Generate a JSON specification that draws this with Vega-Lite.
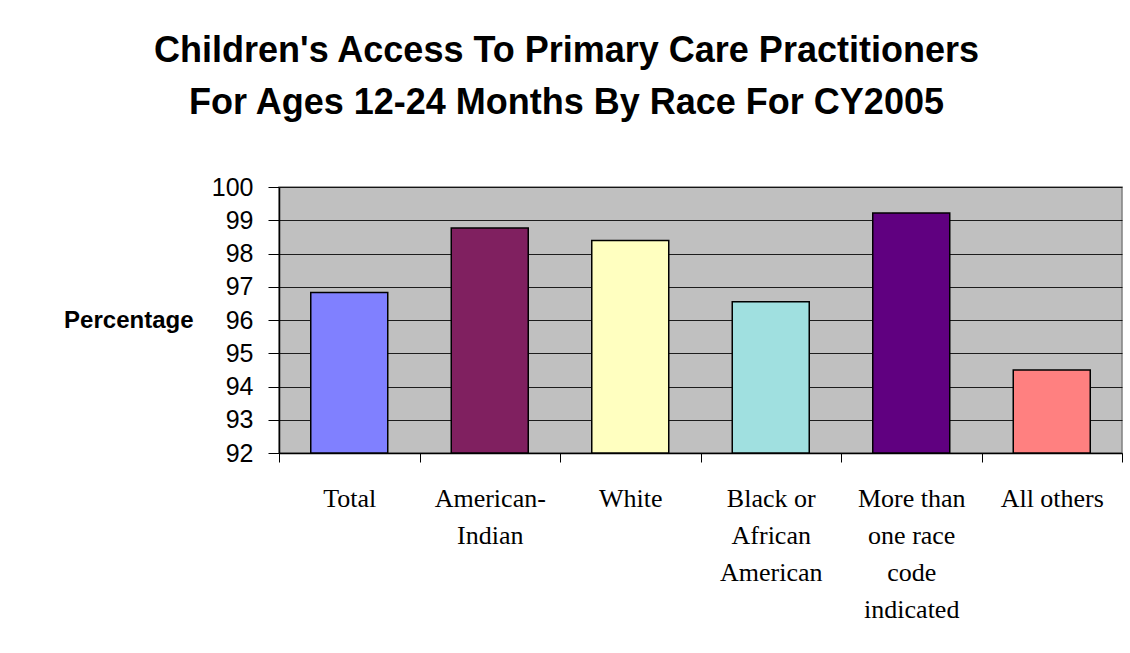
{
  "$schema": "https://vega.github.io/schema/vega-lite/v6.json",
  "width": 843,
  "height": 266,
  "padding": {"left": 63, "top": 33, "right": 5, "bottom": 5},
  "background": "white",
  "title": {
    "text": ["Children's Access To Primary Care Practitioners", "For Ages 12-24 Months By Race For CY2005"],
    "font": "Liberation Sans",
    "fontSize": 36,
    "fontWeight": "bold",
    "color": "black",
    "lineHeight": 52,
    "anchor": "middle",
    "frame": "group",
    "dx": -134,
    "offset": 53
  },
  "data": {
    "values": [
      {"race": "Total", "pct": 96.83, "color": "#8080FF"},
      {"race": "American-Indian", "pct": 98.77, "color": "#802060"},
      {"race": "White", "pct": 98.39, "color": "#FFFFC0"},
      {"race": "Black or African American", "pct": 96.55, "color": "#A0E0E0"},
      {"race": "More than one race code indicated", "pct": 99.22, "color": "#600080"},
      {"race": "All others", "pct": 94.5, "color": "#FF8080"}
    ]
  },
  "mark": {"type": "bar", "stroke": "black", "strokeWidth": 1.5, "width": {"band": 0.548}},
  "encoding": {
    "x": {
      "field": "race",
      "type": "nominal",
      "sort": null,
      "scale": {"paddingInner": 0, "paddingOuter": 0},
      "axis": {
        "title": null,
        "labelAngle": 0,
        "labelFont": "Liberation Serif",
        "labelFontSize": 26,
        "labelColor": "black",
        "labelBaseline": "top",
        "labelLineHeight": 37,
        "labelPadding": 23,
        "labelLimit": 0,
        "labelExpr": "datum.value == 'American-Indian' ? ['American-', 'Indian'] : datum.value == 'Black or African American' ? ['Black or', 'African', 'American'] : datum.value == 'More than one race code indicated' ? ['More than', 'one race', 'code', 'indicated'] : datum.value",
        "tickBand": "extent",
        "tickColor": "black",
        "tickSize": 9,
        "domainColor": "black",
        "domainWidth": 1.5,
        "grid": false
      }
    },
    "y": {
      "field": "pct",
      "type": "quantitative",
      "scale": {"domain": [92, 100], "zero": false, "nice": false},
      "axis": {
        "title": "Percentage",
        "titleAngle": 0,
        "titleFont": "Liberation Sans",
        "titleFontSize": 24,
        "titleFontWeight": "bold",
        "titleColor": "black",
        "titleAlign": "right",
        "titleBaseline": "middle",
        "titleX": -86,
        "titleY": 133,
        "values": [92, 93, 94, 95, 96, 97, 98, 99, 100],
        "labelFont": "Liberation Sans",
        "labelFontSize": 25,
        "labelColor": "black",
        "labelPadding": 15,
        "tickColor": "black",
        "tickSize": 11,
        "domainColor": "black",
        "domainWidth": 1.5,
        "grid": true,
        "gridColor": "black",
        "gridOpacity": 0.85,
        "gridWidth": 1.2
      }
    },
    "y2": {"datum": 92},
    "fill": {"field": "color", "type": "nominal", "scale": null, "legend": null}
  },
  "config": {
    "view": {"fill": "#C0C0C0", "stroke": "#808080", "strokeWidth": 1.5}
  }
}
